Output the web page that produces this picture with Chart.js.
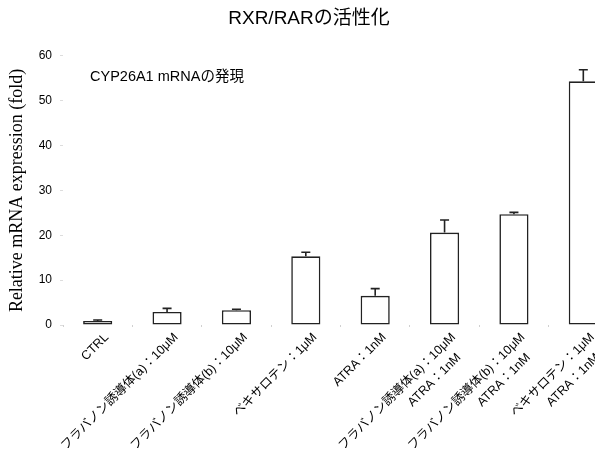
<!DOCTYPE html>
<html>
<head>
<meta charset="utf-8">
<script src="https://cdn.jsdelivr.net/npm/chart.js@4/dist/chart.umd.min.js"></script>
<style>
  html, body { margin: 0; padding: 0; background: #fff; overflow: hidden; }
  #wrap { width: 625px; height: 468px; }
</style>
</head>
<body>
<div id="wrap"><canvas id="c" width="625" height="468"></canvas></div>
<script>
// Treatment groups (two lines where two compounds are combined)
const categories = [
  "CTRL",
  "フラバノン誘導体(a)：10μM",
  "フラバノン誘導体(b)：10μM",
  "ベキサロテン：1μM",
  "ATRA：1nM",
  ["フラバノン誘導体(a)：10μM", "ATRA：1nM   "],
  ["フラバノン誘導体(b)：10μM", "ATRA：1nM   "],
  ["ベキサロテン：1μM", "ATRA：1nM   "]
];
// Mean fold expression and upper error (SD)
const values = [0.9, 2.9, 3.3, 15.3, 6.5, 20.6, 24.7, 54.3];
const errors = [0.2, 0.8, 0.2, 0.9, 1.6, 2.8, 0.4, 2.6];
const yTicks = [0, 10, 20, 30, 40, 50, 60];

const SANS = '"Liberation Sans", Arial, "Noto Sans CJK JP", sans-serif';
const SERIF = '"Liberation Serif", "Times New Roman", serif';

// Upward error bars with a short cap
const errorBars = {
  id: 'errorBars',
  afterDatasetsDraw(chart) {
    const meta = chart.getDatasetMeta(0);
    const y = chart.scales.y;
    const ctx = chart.ctx;
    ctx.save();
    ctx.strokeStyle = '#222';
    ctx.lineWidth = 1.6;
    meta.data.forEach((bar, i) => {
      const top = y.getPixelForValue(values[i]);
      const hi = y.getPixelForValue(values[i] + errors[i]);
      ctx.beginPath();
      ctx.moveTo(bar.x, top);
      ctx.lineTo(bar.x, hi);
      ctx.moveTo(bar.x - 4.5, hi);
      ctx.lineTo(bar.x + 4.5, hi);
      ctx.stroke();
    });
    ctx.restore();
  }
};

// Subtitle inside the plot area
const note = {
  id: 'note',
  afterDraw(chart) {
    const ctx = chart.ctx;
    const area = chart.chartArea;
    const y = chart.scales.y;
    ctx.save();
    ctx.font = '14.5px ' + SANS;
    ctx.fillStyle = '#000';
    ctx.textAlign = 'left';
    ctx.textBaseline = 'middle';
    ctx.fillText('CYP26A1 mRNAの発現', area.left + 27, y.getPixelForValue(55.2));
    ctx.restore();
  }
};

new Chart(document.getElementById('c'), {
  type: 'bar',
  data: {
    labels: categories,
    datasets: [{
      data: values,
      backgroundColor: '#fff',
      borderColor: '#222',
      borderWidth: 1.6,
      borderSkipped: false,
      categoryPercentage: 1,
      barPercentage: 0.42
    }]
  },
  options: {
    responsive: false,
    animation: false,
    layout: { padding: { right: 7 } },
    plugins: {
      legend: { display: false },
      tooltip: { enabled: false },
      title: {
        display: true,
        text: 'RXR/RARの活性化',
        color: '#000',
        font: { family: SANS, size: 19, weight: 'normal' },
        padding: { top: 7, bottom: 26 }
      }
    },
    scales: {
      x: {
        border: { display: false },
        grid: { drawOnChartArea: false, color: '#d0d0d0', tickLength: 2, offset: true },
        ticks: {
          color: '#000',
          font: { family: SANS, size: 12.5, lineHeight: 1.45 },
          minRotation: 45,
          maxRotation: 45,
          autoSkip: false,
          padding: 2,
          labelOffset: 9
        },
        afterFit(scale) { scale.height = 143; }
      },
      y: {
        min: 0,
        max: 60,
        border: { display: false },
        grid: { drawOnChartArea: false, color: '#ddd', tickLength: 3 },
        afterBuildTicks(scale) { scale.ticks = yTicks.map(v => ({ value: v })); },
        ticks: {
          color: '#000',
          font: { family: SANS, size: 12 },
          padding: 8
        },
        title: {
          display: true,
          text: 'Relative mRNA expression (fold)',
          color: '#000',
          font: { family: SERIF, size: 18 },
          padding: { top: 6, bottom: 0 }
        },
        afterFit(scale) { scale.width = 63; }
      }
    }
  },
  plugins: [errorBars, note]
});
</script>
</body>
</html>
